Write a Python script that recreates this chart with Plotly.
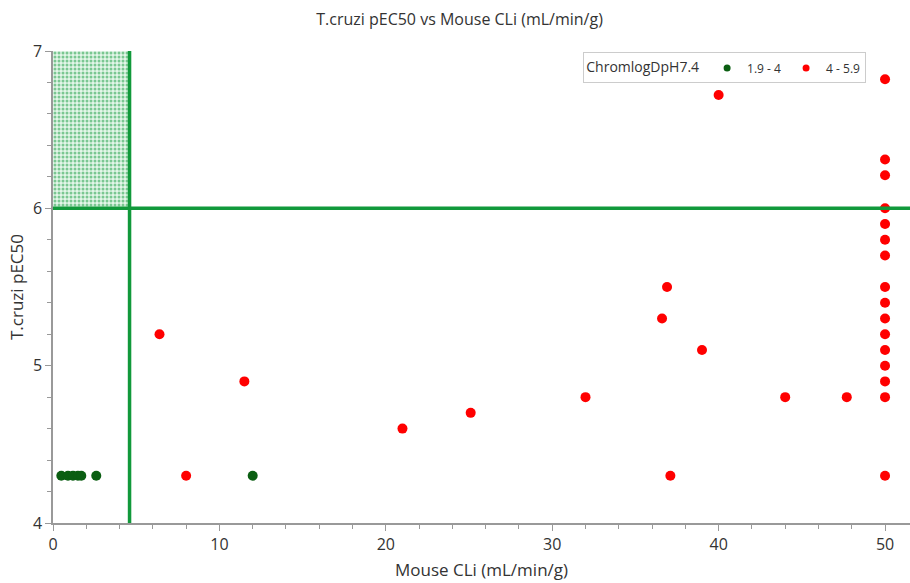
import plotly.graph_objects as go

# Data
green_x = [0.5, 0.9, 1.2, 1.5, 1.7, 2.6, 12.0]
green_y = [4.3, 4.3, 4.3, 4.3, 4.3, 4.3, 4.3]

red_x = [6.4, 8.0, 11.5, 21.0, 25.1, 32.0, 36.6, 36.9, 37.1, 39.0, 40.0, 44.0, 47.7,
         50, 50, 50, 50, 50, 50, 50, 50, 50, 50, 50, 50, 50, 50, 50, 50]
red_y = [5.2, 4.3, 4.9, 4.6, 4.7, 4.8, 5.3, 5.5, 4.3, 5.1, 6.72, 4.8, 4.8,
         6.82, 6.31, 6.21, 6.0, 5.9, 5.8, 5.7, 5.5, 5.4, 5.3, 5.2, 5.1, 5.0, 4.9, 4.8, 4.3]

cli_cut = 4.6
pec_cut = 6.0
x_range = [0, 51.5]
y_range = [4, 7]

line_green = "#11993b"
dark_green = "#0b5e12"
red = "#ff0000"

fig = go.Figure()

# Shaded target region
fig.add_trace(go.Scatter(
    x=[0, cli_cut, cli_cut, 0, 0], y=[pec_cut, pec_cut, y_range[1], y_range[1], pec_cut],
    mode="lines", line=dict(width=0), fill="toself", fillcolor="rgba(255,255,255,0)",
    fillpattern=dict(shape=".", fgcolor=line_green, bgcolor="rgba(200,235,210,0.5)",
                     size=4, solidity=0.45),
    showlegend=False, hoverinfo="skip"))

fig.add_trace(go.Scatter(x=green_x, y=green_y, mode="markers", name="1.9 - 4",
                         marker=dict(color=dark_green, size=10), showlegend=False))
fig.add_trace(go.Scatter(x=red_x, y=red_y, mode="markers", name="4 - 5.9",
                         marker=dict(color=red, size=10), showlegend=False))
# legend entries with small symbols
fig.add_trace(go.Scatter(x=[None], y=[None], mode="markers", name="1.9 - 4",
                         marker=dict(color=dark_green, size=7)))
fig.add_trace(go.Scatter(x=[None], y=[None], mode="markers", name="4 - 5.9",
                         marker=dict(color=red, size=7)))

fig.add_shape(type="line", x0=cli_cut, x1=cli_cut, y0=y_range[0], y1=y_range[1],
              line=dict(color=line_green, width=3.5))
fig.add_shape(type="line", x0=0, x1=x_range[1], y0=pec_cut, y1=pec_cut,
              line=dict(color=line_green, width=3.5))

font_family = "Open Sans, Noto Sans, sans-serif"

fig.update_layout(
    width=910, height=583,
    margin=dict(l=53, r=0, t=51, b=60, autoexpand=False),
    plot_bgcolor="white", paper_bgcolor="white",
    font=dict(family=font_family, color="#333333"),
    title=dict(text="T.cruzi pEC50 vs Mouse CLi (mL/min/g)", x=0.505, xanchor="center",
               xref="container", yref="container",
               y=0.967, yanchor="middle", font=dict(size=16, color="#333333")),
    legend=dict(orientation="h", x=0.949, y=0.997, xanchor="right", yanchor="top",
                bordercolor="#cccccc", borderwidth=1, bgcolor="white",
                title=dict(text="ChromlogDpH7.4", font=dict(size=14)),
                font=dict(size=12), itemwidth=30,
                tracegroupgap=0),
    xaxis=dict(range=x_range, tickvals=[0, 10, 20, 30, 40, 50], showgrid=False,
               zeroline=False, showline=True, linecolor="#999999", linewidth=1.5,
               ticks="outside", ticklen=6, tickcolor="#999999", automargin=False,
               minor=dict(dtick=2, ticks="outside", ticklen=4, tickcolor="#999999"),
               tickfont=dict(size=16),
               title=dict(text="Mouse CLi (mL/min/g)", font=dict(size=17), standoff=10)),
    yaxis=dict(range=y_range, tickvals=[4, 5, 6, 7], showgrid=False,
               zeroline=False, showline=True, linecolor="#999999", linewidth=1.5,
               ticks="outside", ticklen=6, tickcolor="#999999", automargin=False,
               minor=dict(dtick=0.2, ticks="outside", ticklen=4, tickcolor="#999999"),
               tickfont=dict(size=16),
               title=dict(text="T.cruzi pEC50", font=dict(size=17), standoff=5)),
)

fig.write_html("out.html", config={"displayModeBar": False},
               post_script="document.body.style.margin='0';document.body.style.overflow='hidden';")
